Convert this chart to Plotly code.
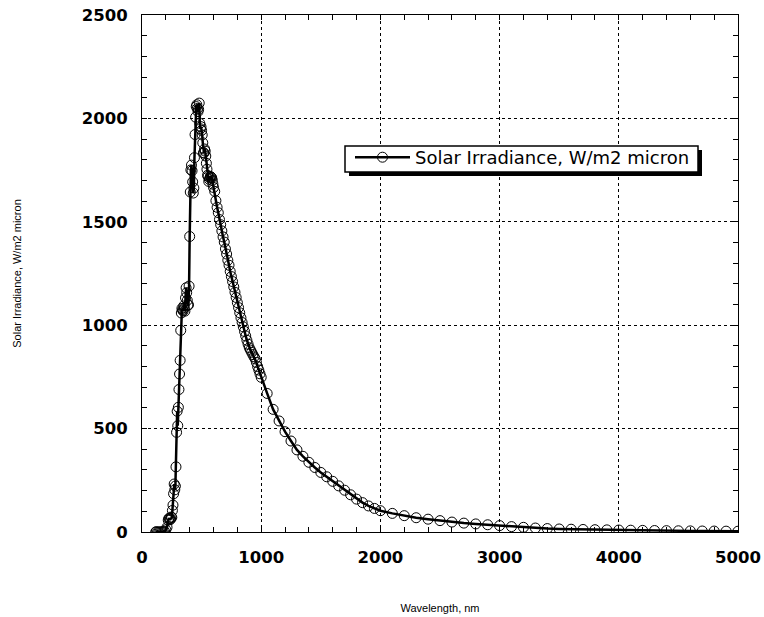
import plotly.graph_objects as go

# Wavelength (nm) and solar irradiance (W/m2 micron)
wavelength = [
    115, 120, 130, 140, 150, 160, 170, 180, 190, 200, 210, 220, 225, 230, 235, 240, 245, 250,
    255, 260, 265, 270, 275, 280, 285, 290, 295, 300, 305, 310, 315, 320, 325, 330, 335, 340,
    345, 350, 355, 360, 365, 370, 375, 380, 385, 390, 395, 400, 405, 410, 415, 420, 425, 430,
    435, 440, 445, 450, 455, 460, 465, 470, 475, 480, 485, 490, 495, 500, 505, 510, 515, 520,
    525, 530, 535, 540, 545, 550, 555, 560, 565, 570, 575, 580, 585, 590, 595, 600,
    610, 620, 630, 640, 650, 660, 670, 680, 690, 700, 710, 720, 730, 740, 750, 760, 770, 780,
    790, 800, 810, 820, 830, 840, 850, 860, 870, 880, 890, 900, 910, 920, 930, 940, 950, 960,
    970, 980, 990, 1000,
    1050, 1100, 1150, 1200, 1250, 1300, 1350, 1400, 1450, 1500, 1550, 1600, 1650, 1700, 1750,
    1800, 1850, 1900, 1950, 2000,
    2100, 2200, 2300, 2400, 2500, 2600, 2700, 2800, 2900, 3000, 3100, 3200, 3300, 3400, 3500,
    3600, 3700, 3800, 3900, 4000, 4100, 4200, 4300, 4400, 4500, 4600, 4700, 4800, 4900, 5000,
]
irradiance = [
    0.1, 0.9, 0.1, 0.1, 0.1, 0.2, 0.6, 1.3, 2.7, 10.7, 22.9, 57.5, 64.9, 66.7, 59.3, 63.0, 72.3, 70.4,
    104, 130, 185, 232, 204, 222, 315, 482, 584, 514, 603, 689, 764, 830, 975, 1059, 1081, 1074,
    1069, 1093, 1083, 1068, 1132, 1181, 1157, 1120, 1098, 1098, 1189, 1429, 1644, 1751, 1774, 1747, 1693, 1639,
    1663, 1810, 1922, 2006, 2057, 2066, 2048, 2033, 2044, 2074, 1976, 1950, 1960, 1942, 1920, 1882, 1833, 1833,
    1852, 1842, 1818, 1783, 1754, 1725, 1720, 1695, 1705, 1712, 1719, 1715, 1712, 1700, 1682, 1666,
    1647, 1602, 1570, 1544, 1511, 1486, 1456, 1427, 1402, 1369, 1344, 1314, 1290, 1260, 1235, 1211, 1185, 1159,
    1134, 1109, 1085, 1060, 1036, 1013, 992, 970, 948, 927, 908, 891, 880, 869, 858, 847, 837, 820,
    800, 783, 765, 748,
    670, 593, 537, 485, 440, 397, 366, 337, 312, 288, 267, 245, 223, 202, 180,
    159, 142, 126, 114, 103,
    90, 79, 69, 62, 55, 48, 43, 39, 35, 31, 26, 22.6, 19.2, 16.6, 14.6,
    13.5, 12.3, 11.1, 10.3, 9.5, 8.7, 7.8, 7.1, 6.5, 5.9, 5.3, 4.8, 4.5, 4.1, 3.8,
]
x_ticks = [0, 1000, 2000, 3000, 4000, 5000]
y_ticks = [0, 500, 1000, 1500, 2000, 2500]
series_name = "Solar Irradiance, W/m2 micron"

W, H = 764, 617
L, R, T, B = 142, 26, 15, 85
PW, PH = W - L - R, H - T - B

def px_x(p):
    return (p - L) / PW

def px_y(p):
    return (H - B - p) / PH

fig = go.Figure()
fig.add_trace(go.Scatter(
    x=wavelength, y=irradiance, mode="lines+markers", name=series_name,
    line=dict(color="black", width=2.5),
    marker=dict(symbol="circle-open", size=10, color="black", line=dict(width=1, color="black")),
))

tick_font = dict(family="DejaVu Sans", size=16.5, color="black", weight="bold")
title_font = dict(family="Liberation Sans", size=11, color="black")

fig.update_xaxes(
    range=[0, 5000], tickvals=x_ticks, ticktext=[str(v) for v in x_ticks],
    ticks="inside", ticklen=5, tickcolor="black", mirror="ticks",
    showline=True, linecolor="black", linewidth=1,
    showgrid=True, gridcolor="black", griddash="dot", gridwidth=1,
    minor=dict(dtick=200, ticks="inside", ticklen=5, tickcolor="black", showgrid=False),
    tickfont=tick_font, ticklabelstandoff=10, zeroline=False,
    title=dict(text="Wavelength, nm", font=title_font, standoff=38),
    automargin=False,
)
fig.update_yaxes(
    range=[0, 2500], tickvals=y_ticks, ticktext=[str(v) for v in y_ticks],
    ticks="inside", ticklen=5, tickcolor="black", mirror="ticks",
    showline=True, linecolor="black", linewidth=1,
    showgrid=True, gridcolor="black", griddash="dot", gridwidth=1,
    minor=dict(dtick=100, ticks="inside", ticklen=5, tickcolor="black", showgrid=False),
    tickfont=tick_font, ticklabelstandoff=10, zeroline=False,
    title=dict(text="Solar Irradiance, W/m2 micron", font=title_font, standoff=57),
    automargin=False,
)

# legend frame with drop shadow
fig.add_shape(type="rect", xref="paper", yref="paper",
              x0=px_x(349), x1=px_x(702), y0=px_y(176), y1=px_y(150),
              fillcolor="black", line=dict(width=0), layer="above")
fig.add_shape(type="rect", xref="paper", yref="paper",
              x0=px_x(345), x1=px_x(698), y0=px_y(172), y1=px_y(146),
              fillcolor="white", line=dict(width=1.5, color="black"), layer="above")

fig.update_layout(
    width=W, height=H,
    margin=dict(l=L, r=R, t=T, b=B),
    paper_bgcolor="white", plot_bgcolor="white",
    showlegend=True,
    legend=dict(x=px_x(350), y=px_y(139), xanchor="left", yanchor="top",
                bgcolor="rgba(0,0,0,0)", borderwidth=0,
                font=dict(family="DejaVu Sans", size=18, color="black"),
                itemwidth=55),
)

fig.write_html("out.html")
